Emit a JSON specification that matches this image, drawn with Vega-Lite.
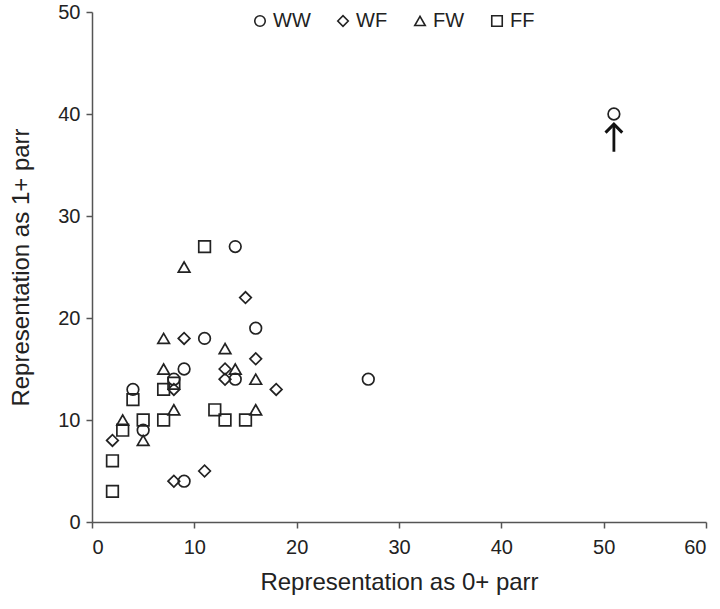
{
  "$schema": "https://vega.github.io/schema/vega-lite/v6.json",
  "width": 614,
  "height": 510,
  "autosize": {"type": "none"},
  "padding": {"left": 92, "top": 12, "right": 14, "bottom": 87},
  "background": "white",
  "config": {
    "view": {"stroke": null},
    "font": "Liberation Sans",
    "axis": {
      "grid": false,
      "domainColor": "#555",
      "tickColor": "#555",
      "domainWidth": 1.5,
      "tickWidth": 1.5,
      "tickSize": 6,
      "labelFontSize": 20,
      "labelColor": "#222",
      "titleFontSize": 24,
      "titleFontWeight": "normal",
      "titleColor": "#222"
    }
  },
  "datasets": {
    "pts": [
      {"g": "WW", "x": 51, "y": 40}, {"g": "WW", "x": 14, "y": 27}, {"g": "WW", "x": 16, "y": 19},
      {"g": "WW", "x": 11, "y": 18}, {"g": "WW", "x": 9, "y": 15}, {"g": "WW", "x": 14, "y": 14},
      {"g": "WW", "x": 27, "y": 14}, {"g": "WW", "x": 8, "y": 14}, {"g": "WW", "x": 4, "y": 13},
      {"g": "WW", "x": 5, "y": 9}, {"g": "WW", "x": 9, "y": 4},
      {"g": "WF", "x": 15, "y": 22}, {"g": "WF", "x": 9, "y": 18}, {"g": "WF", "x": 16, "y": 16},
      {"g": "WF", "x": 13, "y": 15}, {"g": "WF", "x": 13, "y": 14}, {"g": "WF", "x": 8, "y": 13},
      {"g": "WF", "x": 18, "y": 13}, {"g": "WF", "x": 2, "y": 8}, {"g": "WF", "x": 11, "y": 5},
      {"g": "WF", "x": 8, "y": 4},
      {"g": "FW", "x": 9, "y": 25}, {"g": "FW", "x": 7, "y": 18}, {"g": "FW", "x": 13, "y": 17},
      {"g": "FW", "x": 7, "y": 15}, {"g": "FW", "x": 14, "y": 15}, {"g": "FW", "x": 16, "y": 14},
      {"g": "FW", "x": 8, "y": 11}, {"g": "FW", "x": 16, "y": 11}, {"g": "FW", "x": 3, "y": 10},
      {"g": "FW", "x": 5, "y": 8},
      {"g": "FF", "x": 11, "y": 27}, {"g": "FF", "x": 7, "y": 13}, {"g": "FF", "x": 4, "y": 12},
      {"g": "FF", "x": 12, "y": 11}, {"g": "FF", "x": 5, "y": 10}, {"g": "FF", "x": 7, "y": 10},
      {"g": "FF", "x": 13, "y": 10}, {"g": "FF", "x": 15, "y": 10}, {"g": "FF", "x": 3, "y": 9},
      {"g": "FF", "x": 2, "y": 6}, {"g": "FF", "x": 2, "y": 3}, {"g": "FF", "x": 8, "y": 13.6}
    ],
    "arrow": [{"x": 51, "y1": 36.3, "y2": 39.0}]
  },
  "layer": [
    {
      "data": {"name": "pts"},
      "mark": {"type": "point", "filled": false, "strokeWidth": 1.7, "color": "#222", "opacity": 1},
      "encoding": {
        "x": {"field": "x", "type": "quantitative", "scale": {"domain": [0, 60], "nice": false},
              "axis": {"values": [0, 10, 20, 30, 40, 50, 60], "title": "Representation as 0+ parr", "labelPadding": 9, "titlePadding": 13}},
        "y": {"field": "y", "type": "quantitative", "scale": {"domain": [0, 50], "nice": false},
              "axis": {"values": [0, 10, 20, 30, 40, 50], "title": "Representation as 1+ parr", "labelPadding": 6, "titlePadding": 24}},
        "shape": {"field": "g", "type": "nominal",
                  "scale": {"domain": ["WW", "WF", "FW", "FF"], "range": ["circle", "diamond", "triangle-up", "square"]},
                  "legend": {"title": null, "orient": "none", "legendX": 158, "legendY": -1, "direction": "horizontal",
                             "labelFontSize": 20, "labelColor": "#222", "symbolSize": 110, "symbolStrokeWidth": 1.6,
                             "symbolStrokeColor": "#222", "columnPadding": 22, "labelOffset": 3}},
        "size": {"value": 135}
      }
    },
    {
      "data": {"name": "arrow"},
      "mark": {"type": "rule", "strokeWidth": 2.8, "color": "#111"},
      "encoding": {
        "x": {"field": "x", "type": "quantitative"},
        "y": {"field": "y1", "type": "quantitative"},
        "y2": {"field": "y2"}
      }
    },
    {
      "data": {"name": "arrow"},
      "mark": {"type": "point", "shape": "M-1,1L0,0L1,1", "filled": false, "strokeWidth": 3, "color": "#111", "opacity": 1, "size": 280},
      "encoding": {
        "x": {"field": "x", "type": "quantitative"},
        "y": {"field": "y2", "type": "quantitative"}
      }
    }
  ]
}
